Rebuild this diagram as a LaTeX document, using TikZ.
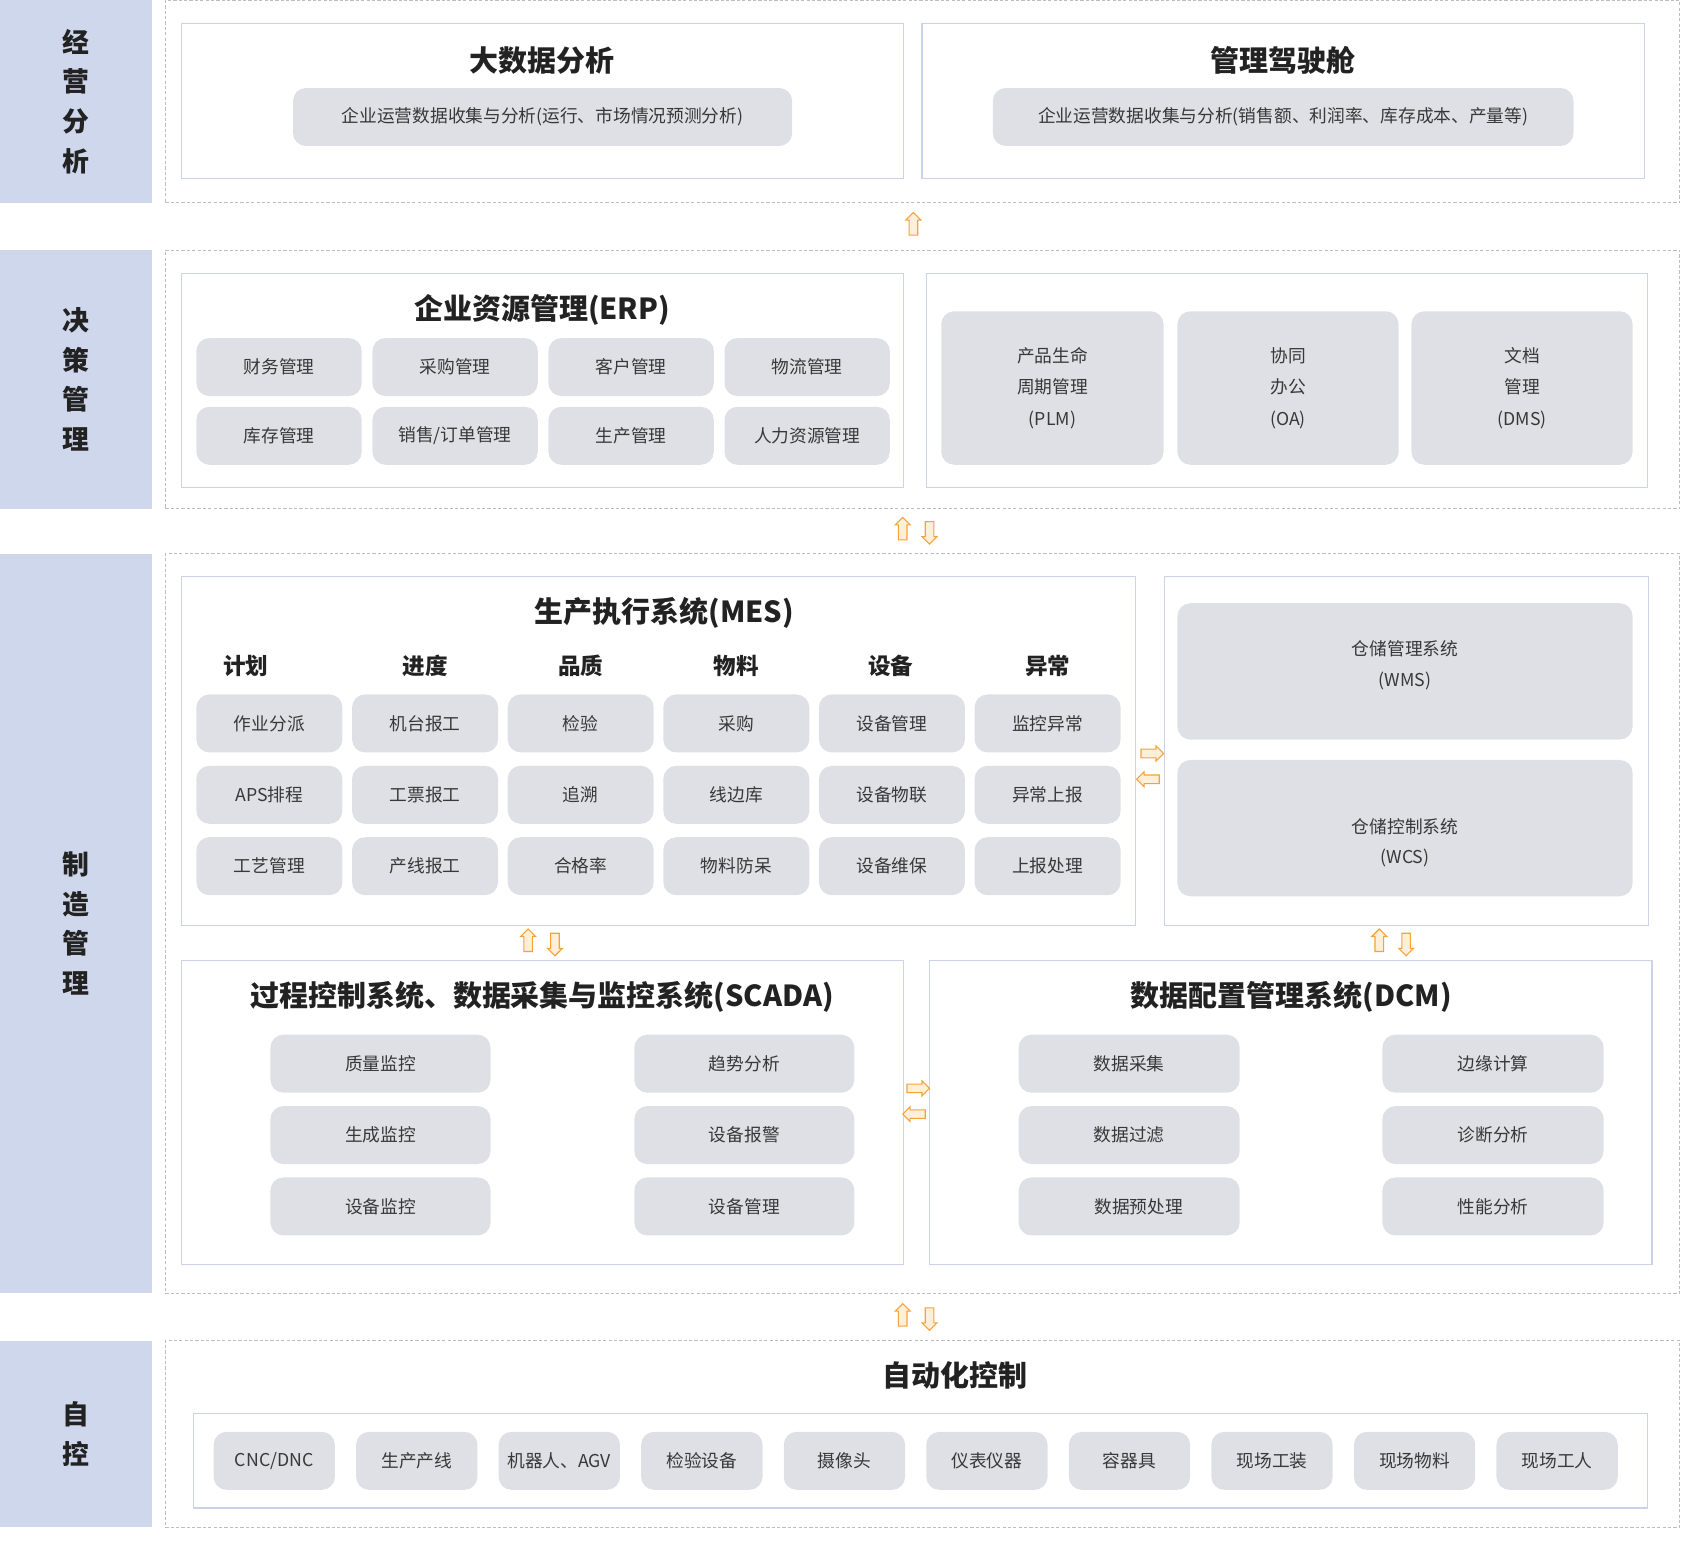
\documentclass[tikz,border=0pt]{standalone}
\usepackage{fontspec}
\setmainfont{Noto Sans CJK SC}
\usetikzlibrary{positioning, shapes.arrows}

\definecolor{bandblue}{HTML}{CFD7EC}
\definecolor{pillgray}{HTML}{DFE0E6}
\definecolor{boxline}{HTML}{CBD3E6}
\definecolor{dashgray}{HTML}{BDBDBD}
\definecolor{arrowline}{HTML}{F6A23C}
\definecolor{arrowfill}{HTML}{FEEFD9}
\definecolor{ink}{HTML}{222222}

% box from corner (x1,y1) to (x2,y2)
\newcommand{\cell}[7]{\node[#1, minimum width={(#5-#3)*1pt}, minimum height={(#6-#4)*1pt}] (#2) at ({(#3+#5)/2}, {(#4+#6)/2}) {#7};}

\begin{document}
\begin{tikzpicture}[x = 1pt, y = -1pt,
    every node/.style = { inner sep = 0, text = ink },
    band/.style = { fill = bandblue, align = center, font = \fontsize{25}{37}\selectfont\bfseries },
    outerframe/.style = { draw = dashgray, line width = .9pt, dash pattern = on 3pt off 2pt },
    panel/.style = { draw = boxline, line width = 1.2pt },
    pill/.style = { fill = pillgray, rounded corners = 12pt, align = center, font = \fontsize{16.5}{29.5}\selectfont, text = ink!90 },
    boxtitle/.style = { font = \fontsize{27}{30}\selectfont\bfseries },
    colhead/.style = { font = \fontsize{21}{24}\selectfont\bfseries },
    note/.style = { align = center, font = \fontsize{16.5}{28.5}\selectfont, text = ink!90 },
    barrow/.style = { single arrow, draw = arrowline, fill = arrowfill, line width = 1pt,
      inner sep = 3.5pt, minimum height = 21pt, single arrow head extend = 3pt }
  ]
  \useasboundingbox (0,0) rectangle (1568,1435);

  % layer bands
  \cell{band}{b1}{0}{0}{142}{189}{经\\营\\分\\析}
  \cell{band}{b2}{0}{233}{142}{474}{决\\策\\管\\理}
  \cell{band}{b3}{0}{516}{142}{1205}{制\\造\\管\\理}
  \cell{band}{b4}{0}{1249}{142}{1423}{自\\控}

  % dashed frames
  \cell{outerframe}{f1}{154}{0.5}{1565}{189}{}
  \cell{outerframe}{f2}{154}{233}{1565}{474}{}
  \cell{outerframe}{f3}{154}{516}{1565}{1205}{}
  \cell{outerframe}{f4}{154}{1249}{1565}{1423}{}

  % 经营分析
  \cell{panel}{bigdata}{169}{22}{842}{166}{}
  \node[boxtitle] (t-bigdata) at (505,56) {大数据分析};
  \cell{pill}{p-bigdata}{273}{82}{738}{136}{企业运营数据收集与分析(运行、市场情况预测分析)}
  \cell{panel}{cockpit}{859}{22}{1532}{166}{}
  \node[boxtitle] (t-cockpit) at (1195,56) {管理驾驶舱};
  \cell{pill}{p-cockpit}{925}{82}{1466}{136}{企业运营数据收集与分析(销售额、利润率、库存成本、产量等)}

  % 决策管理
  \cell{panel}{erp}{169}{255}{842}{454}{}
  \node[boxtitle] (t-erp) at (505,289) {企业资源管理(ERP)};
  \foreach \t [count = \i from 0] in {财务管理, 采购管理, 客户管理, 物流管理, 库存管理, 销售/订单管理, 生产管理, 人力资源管理} {
    \pgfmathsetmacro\xa{183 + 164*mod(\i,4)}
    \pgfmathsetmacro\ya{315 + 64*int(\i/4)}
    \cell{pill}{erp-\i}{\xa}{\ya}{\xa+154}{\ya+54}{\t}
  }
  \cell{panel}{office}{863}{255}{1535}{454}{}
  \cell{pill}{plm}{877}{290}{1084}{433}{产品生命\\周期管理\\(PLM)}
  \cell{pill}{oa}{1097}{290}{1303}{433}{协同\\办公\\(OA)}
  \cell{pill}{dms}{1315}{290}{1521}{433}{文档\\管理\\(DMS)}

  % 制造管理: MES
  \cell{panel}{mes}{169}{537}{1058}{862}{}
  \node[boxtitle] (t-mes) at (619,571) {生产执行系统(MES)};
  \foreach \t/\x in {计划/229, 进度/396, 品质/541, 物料/686, 设备/830, 异常/976}
    \node[colhead] (h-\t) at (\x,620) {\t};
  \foreach \t [count = \i from 0] in {作业分派, 机台报工, 检验, 采购, 设备管理, 监控异常,
      APS排程, 工票报工, 追溯, 线边库, 设备物联, 异常上报,
      工艺管理, 产线报工, 合格率, 物料防呆, 设备维保, 上报处理} {
    \pgfmathsetmacro\xa{183 + 145*mod(\i,6)}
    \pgfmathsetmacro\ya{647 + 66.5*int(\i/6)}
    \cell{pill}{mes-\i}{\xa}{\ya}{\xa+136}{\ya+54}{\t}
  }

  % WMS / WCS
  \cell{panel}{store}{1085}{537}{1536}{862}{}
  \cell{pill}{wms}{1097}{562}{1521}{689}{}
  \node[note] (t-wms) at (1309,620) {仓储管理系统\\(WMS)};
  \cell{pill}{wcs}{1097}{708}{1521}{835}{}
  \node[note] (t-wcs) at (1309,785) {仓储控制系统\\(WCS)};

  % SCADA
  \cell{panel}{scada}{169}{895}{842}{1178}{}
  \node[boxtitle] (t-scada) at (505,929) {过程控制系统、数据采集与监控系统(SCADA)};
  \foreach \t [count = \i from 0] in {质量监控, 生成监控, 设备监控, 趋势分析, 设备报警, 设备管理} {
    \pgfmathsetmacro\xa{252 + 339*int(\i/3)}
    \pgfmathsetmacro\ya{964 + 66.5*mod(\i,3)}
    \cell{pill}{scada-\i}{\xa}{\ya}{\xa+205}{\ya+54}{\t}
  }

  % DCM
  \cell{panel}{dcm}{866}{895}{1539}{1178}{}
  \node[boxtitle] (t-dcm) at (1203,929) {数据配置管理系统(DCM)};
  \foreach \t [count = \i from 0] in {数据采集, 数据过滤, {}, 边缘计算, 诊断分析, 性能分析} {
    \pgfmathsetmacro\xa{949 + 339*int(\i/3)}
    \pgfmathsetmacro\ya{964 + 66.5*mod(\i,3)}
    \cell{pill}{dcm-\i}{\xa}{\ya}{\xa+206}{\ya+54}{\t}
  }
  \node[note] (t-dcm-2) at (1061,1124) {数据预处理};

  % 自控
  \node[boxtitle] (t-auto) at (890,1281) {自动化控制};
  \cell{panel}{autobox}{180}{1317}{1535}{1405}{}
  \foreach \t [count = \i from 0] in {CNC/DNC, 生产产线, 机器人、AGV, 检验设备, 摄像头, 仪表仪器, 容器具, 现场工装, 现场物料, 现场工人} {
    \pgfmathsetmacro\xa{199 + 132.8*\i}
    \cell{pill}{dev-\i}{\xa}{1334}{\xa+113}{1388}{\t}
  }

  % block arrows
  \node[barrow, shape border rotate = 90] (up-1) at (851,210.5) {};
  \node[barrow, shape border rotate = 90] (up-2) at (841,494.5) {};
  \node[barrow, shape border rotate = 270] (dn-2) at (866,494.5) {};
  \node[barrow] (rt-3) at (1071.5,702) {};
  \node[barrow, shape border rotate = 180] (lt-3) at (1071.5,726) {};
  \node[barrow, shape border rotate = 90] (up-4) at (492,878) {};
  \node[barrow, shape border rotate = 270] (dn-4) at (517,878) {};
  \node[barrow, shape border rotate = 90] (up-5) at (1285,878) {};
  \node[barrow, shape border rotate = 270] (dn-5) at (1310,878) {};
  \node[barrow] (rt-6) at (853.5,1014) {};
  \node[barrow, shape border rotate = 180] (lt-6) at (853.5,1038) {};
  \node[barrow, shape border rotate = 90] (up-7) at (841,1227) {};
  \node[barrow, shape border rotate = 270] (dn-7) at (866,1227) {};
\end{tikzpicture}
\end{document}
